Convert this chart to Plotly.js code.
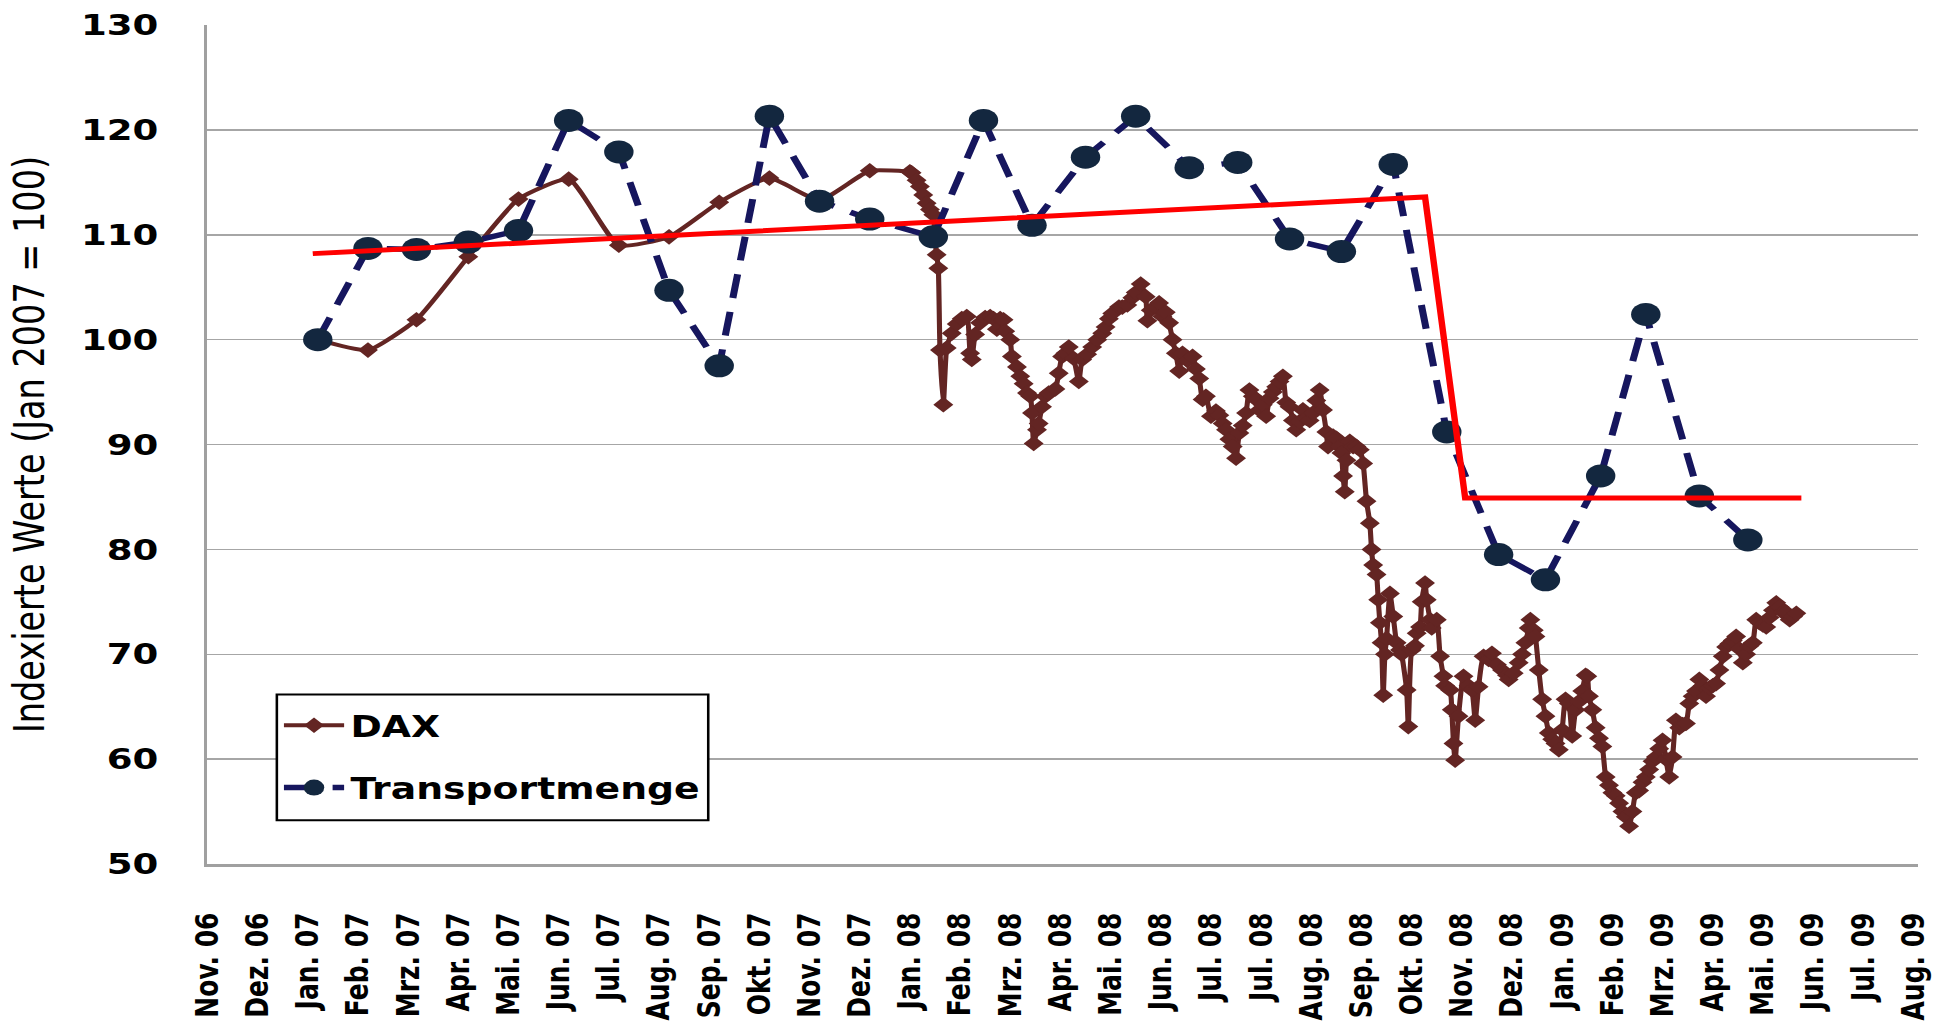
<!DOCTYPE html>
<html>
<head>
<meta charset="utf-8">
<script src="https://cdn.plot.ly/plotly-3.0.1.min.js"></script>
<style>
html,body{margin:0;padding:0;background:#fff;overflow:hidden;width:1955px;height:1023px}
#wrap{width:1955px;height:1023px;overflow:hidden;position:relative}
#chart{width:1527px;height:1023px;transform:scaleX(1.2803);transform-origin:0 0}
</style>
</head>
<body>
<div id="wrap"><div id="chart"></div></div>
<script>
// ---------- axis ticks ----------
const tickDates = ['2006-11-09','2006-12-09','2007-01-08','2007-02-07','2007-03-09','2007-04-08','2007-05-08','2007-06-07','2007-07-07','2007-08-06','2007-09-05','2007-10-05','2007-11-04','2007-12-04','2008-01-03','2008-02-02','2008-03-03','2008-04-02','2008-05-02','2008-06-01','2008-07-01','2008-07-31','2008-08-30','2008-09-29','2008-10-29','2008-11-28','2008-12-28','2009-01-27','2009-02-26','2009-03-28','2009-04-27','2009-05-27','2009-06-26','2009-07-26','2009-08-25'];
const tickLabels = ['Nov. 06','Dez. 06','Jan. 07','Feb. 07','Mrz. 07','Apr. 07','Mai. 07','Jun. 07','Jul. 07','Aug. 07','Sep. 07','Okt. 07','Nov. 07','Dez. 07','Jan. 08','Feb. 08','Mrz. 08','Apr. 08','Mai. 08','Jun. 08','Jul. 08','Jul. 08','Aug. 08','Sep. 08','Okt. 08','Nov. 08','Dez. 08','Jan. 09','Feb. 09','Mrz. 09','Apr. 09','Mai. 09','Jun. 09','Jul. 09','Aug. 09'];
const yTicks = [50,60,70,80,90,100,110,120,130];

// ---------- Transportmenge (monthly) ----------
const transportDates = ['2007-01-14','2007-02-13','2007-03-14','2007-04-14','2007-05-14','2007-06-13','2007-07-13','2007-08-12','2007-09-11','2007-10-11','2007-11-10','2007-12-10','2008-01-17','2008-02-16','2008-03-16','2008-04-17','2008-05-17','2008-06-18','2008-07-17','2008-08-17','2008-09-17','2008-10-18','2008-11-19','2008-12-20','2009-01-17','2009-02-19','2009-03-18','2009-04-19','2009-05-18'];
const transportValues = [100.0,108.7,108.6,109.3,110.4,120.9,117.9,104.7,97.5,121.3,113.2,111.5,109.8,120.9,110.9,117.4,121.3,116.4,116.9,109.6,108.4,116.7,91.2,79.5,77.1,87.0,102.4,85.1,80.9];

// ---------- DAX (monthly 2007, then daily) ----------
const daxDates = [
'2007-01-14','2007-02-13','2007-03-14','2007-04-14','2007-05-14','2007-06-13','2007-07-13','2007-08-12','2007-09-11','2007-10-11','2007-11-10','2007-12-10',
'2008-01-03','2008-01-04','2008-01-07','2008-01-09','2008-01-11','2008-01-13','2008-01-15','2008-01-17','2008-01-18','2008-01-19','2008-01-20','2008-01-21','2008-01-23','2008-01-25','2008-01-28','2008-01-31',
'2008-02-03','2008-02-06','2008-02-08','2008-02-09','2008-02-11','2008-02-14','2008-02-17','2008-02-20','2008-02-22','2008-02-24','2008-02-26','2008-02-28','2008-02-29',
'2008-03-03','2008-03-04','2008-03-07','2008-03-09','2008-03-11','2008-03-13','2008-03-15','2008-03-16','2008-03-17','2008-03-19','2008-03-20','2008-03-22','2008-03-24','2008-03-26','2008-03-30',
'2008-04-01','2008-04-03','2008-04-05','2008-04-07','2008-04-10','2008-04-13','2008-04-15','2008-04-18','2008-04-21','2008-04-24','2008-04-27','2008-04-29',
'2008-05-01','2008-05-03','2008-05-07','2008-05-09','2008-05-12','2008-05-15','2008-05-17','2008-05-20','2008-05-23','2008-05-24','2008-05-26','2008-05-29','2008-05-31',
'2008-06-02','2008-06-04','2008-06-06','2008-06-08','2008-06-10','2008-06-12','2008-06-14','2008-06-17','2008-06-20','2008-06-22','2008-06-24','2008-06-26','2008-06-28',
'2008-07-01','2008-07-04','2008-07-06','2008-07-08','2008-07-10','2008-07-12','2008-07-14','2008-07-16','2008-07-18','2008-07-20','2008-07-22','2008-07-24','2008-07-26','2008-07-28','2008-07-30',
'2008-08-01','2008-08-03','2008-08-05','2008-08-07','2008-08-09','2008-08-11','2008-08-13','2008-08-15','2008-08-17','2008-08-19','2008-08-21','2008-08-23','2008-08-25','2008-08-27','2008-08-29','2008-08-31',
'2008-09-02','2008-09-04','2008-09-06','2008-09-08','2008-09-09','2008-09-12','2008-09-14','2008-09-16','2008-09-17','2008-09-18','2008-09-19','2008-09-20','2008-09-22','2008-09-24','2008-09-26','2008-09-28','2008-09-30',
'2008-10-02','2008-10-04','2008-10-05','2008-10-06','2008-10-08','2008-10-09','2008-10-10','2008-10-11','2008-10-12','2008-10-13','2008-10-14','2008-10-16','2008-10-18','2008-10-20','2008-10-22','2008-10-23','2008-10-26','2008-10-27','2008-10-29','2008-10-31',
'2008-11-01','2008-11-03','2008-11-04','2008-11-06','2008-11-07','2008-11-09','2008-11-10','2008-11-13','2008-11-15','2008-11-17','2008-11-18','2008-11-21','2008-11-22','2008-11-23','2008-11-24','2008-11-26','2008-11-29',
'2008-12-02','2008-12-04','2008-12-06','2008-12-08','2008-12-11','2008-12-14','2008-12-16','2008-12-19','2008-12-22','2008-12-25','2008-12-26','2008-12-29',
'2009-01-01','2009-01-03','2009-01-05','2009-01-07','2009-01-08','2009-01-10','2009-01-11','2009-01-13','2009-01-15','2009-01-17','2009-01-19','2009-01-21','2009-01-23','2009-01-25','2009-01-27','2009-01-29','2009-01-31',
'2009-02-02','2009-02-04','2009-02-06','2009-02-08','2009-02-10','2009-02-11','2009-02-12','2009-02-14','2009-02-16','2009-02-18','2009-02-20','2009-02-22','2009-02-24','2009-02-26','2009-02-28',
'2009-03-02','2009-03-04','2009-03-06','2009-03-08','2009-03-10','2009-03-12','2009-03-14','2009-03-16','2009-03-18','2009-03-20','2009-03-22','2009-03-24','2009-03-26','2009-03-28','2009-03-30',
'2009-04-01','2009-04-03','2009-04-05','2009-04-07','2009-04-09','2009-04-11','2009-04-13','2009-04-15','2009-04-17','2009-04-19','2009-04-21','2009-04-23','2009-04-25','2009-04-27','2009-04-29',
'2009-05-01','2009-05-03','2009-05-05','2009-05-07','2009-05-09','2009-05-11','2009-05-13','2009-05-15','2009-05-17','2009-05-19','2009-05-21','2009-05-23','2009-05-25','2009-05-27','2009-05-29','2009-05-31',
'2009-06-02','2009-06-04','2009-06-06','2009-06-08','2009-06-10','2009-06-12','2009-06-14','2009-06-16'
];
const daxValues = [
100.0,99.0,101.9,107.9,113.4,115.3,109.0,109.8,113.1,115.4,113.3,116.1,
116.0,115.9,115.2,114.6,113.8,113.0,112.4,111.9,109.5,108.1,106.8,99.0,93.8,99.2,100.6,101.5,
102.0,102.2,98.7,98.1,100.5,101.6,102.1,102.2,102.0,101.0,102.0,101.9,100.8,
100.0,98.4,97.4,96.5,95.8,94.9,94.6,93.0,90.1,91.4,92.0,93.6,94.6,94.9,95.3,
96.8,98.4,98.7,99.3,98.2,96.0,98.1,98.6,99.3,100.0,100.6,101.2,
102.0,102.5,103.1,103.1,103.3,104.0,104.5,105.3,104.1,101.8,102.8,103.1,103.5,
102.2,102.6,101.6,100.0,98.7,97.0,98.7,98.0,98.4,97.2,96.3,94.3,94.6,
92.7,93.2,92.8,92.0,91.4,90.5,89.8,88.7,91.1,91.8,93.0,95.2,94.6,94.3,93.3,
93.8,92.7,94.4,95.0,95.5,96.0,96.5,94.0,93.6,92.3,91.4,92.2,93.3,92.5,92.3,93.0,
94.2,95.2,93.3,91.2,89.8,90.8,90.6,89.8,89.2,87.0,85.5,88.5,90.3,89.8,89.8,89.5,88.2,
84.6,82.5,80.0,78.5,77.6,75.2,73.0,71.1,66.1,70.0,71.5,75.8,73.6,71.1,70.4,70.0,66.6,63.1,70.4,70.8,
72.0,72.6,75.0,76.8,75.2,73.3,72.5,73.3,69.8,67.9,67.0,66.6,64.7,61.5,59.9,64.1,67.9,
67.0,66.6,63.7,66.9,69.8,69.5,70.1,69.0,68.5,68.0,67.6,68.2,
69.2,70.0,71.1,72.5,73.3,72.3,71.7,68.5,65.7,64.1,62.5,61.9,61.5,60.9,62.8,65.7,65.3,
62.2,64.7,65.5,66.5,68.0,67.9,66.0,64.7,63.0,62.0,61.2,58.3,57.5,56.8,56.5,
55.8,55.0,54.5,53.6,55.0,56.8,57.0,57.8,58.3,59.0,59.8,60.2,61.0,61.8,60.0,
58.3,60.2,63.7,63.0,63.3,63.4,65.3,66.0,66.5,67.6,67.0,66.0,66.8,67.0,67.2,
68.5,69.8,70.7,71.0,71.3,71.7,70.5,69.2,70.0,70.8,71.1,73.3,73.0,72.8,72.6,73.5,
74.2,74.9,74.5,74.0,74.0,73.3,73.6,73.9
];

// ---------- red trend line ----------
const trendDates = ['2007-01-11','2008-11-06','2008-11-30','2009-06-19'];
const trendValues = [108.2,113.6,84.9,84.9];

const FONT = 'DejaVu Sans, Verdana, sans-serif';

const traces = [
  {
    type:'scatter', mode:'lines+markers', name:'DAX', legendgroup:'a',
    x: daxDates, y: daxValues,
    line:{color:'#632523', width:4, shape:'spline', smoothing:0.5},
    marker:{symbol:'diamond', size:12, color:'#632523'}
  },
  {
    type:'scatter', mode:'lines+markers', name:'Transportmenge', legendgroup:'b',
    x: transportDates, y: transportValues,
    line:{color:'#16165E', width:5.5, dash:'24px,14px'},
    marker:{symbol:'circle', size:23, color:'#13273F'}
  },
  {
    type:'scatter', mode:'lines', name:'Trend', showlegend:false, hoverinfo:'skip',
    x: trendDates, y: trendValues,
    line:{color:'#FF0000', width:5}
  }
];

const layout = {
  width:1527, height:1023,
  margin:{l:162, r:29, t:25, b:159},
  paper_bgcolor:'#ffffff', plot_bgcolor:'#ffffff',
  showlegend:true,
  shapes:[{
    type:'rect', xref:'paper', yref:'paper', layer:'above',
    x0:0.0406, x1:0.2928, y0:0.052, y1:0.202,
    fillcolor:'#ffffff', line:{color:'#000000', width:2}
  }],
  legend:{
    x:0.041, y:0.196, xanchor:'left', yanchor:'top',
    bgcolor:'rgba(0,0,0,0)', borderwidth:0,
    font:{family:FONT, size:29.5, color:'#000000', weight:'bold'},
    traceorder:'grouped', tracegroupgap:21, itemwidth:47
  },
  xaxis:{
    type:'date', range:['2006-11-09','2009-08-27 16:00'],
    tickmode:'array', tickvals:tickDates, ticktext:tickLabels,
    tickangle:-90,
    tickfont:{family:FONT, size:25, color:'#000000', weight:'bold'},
    showgrid:false, zeroline:false,
    showline:true, linecolor:'#A0A0A0', linewidth:2.5,
    ticks:'', ticklabelstandoff:36, fixedrange:true
  },
  yaxis:{
    range:[50,130], tickmode:'array', tickvals:yTicks,
    tickfont:{family:FONT, size:29, color:'#000000', weight:'bold'},
    showgrid:true, gridcolor:'#A6A6A6', gridwidth:1.5, zeroline:false,
    showline:true, linecolor:'#A0A0A0', linewidth:2.5,
    ticks:'', ticklabelstandoff:30, fixedrange:true,
    title:{text:'Indexierte Werte (Jan 2007 = 100)', font:{family:FONT, size:33.5, color:'#000000'}, standoff:18}
  }
};

Plotly.newPlot('chart', traces, layout, {displayModeBar:false, staticPlot:true, responsive:false});
</script>
</body>
</html>
